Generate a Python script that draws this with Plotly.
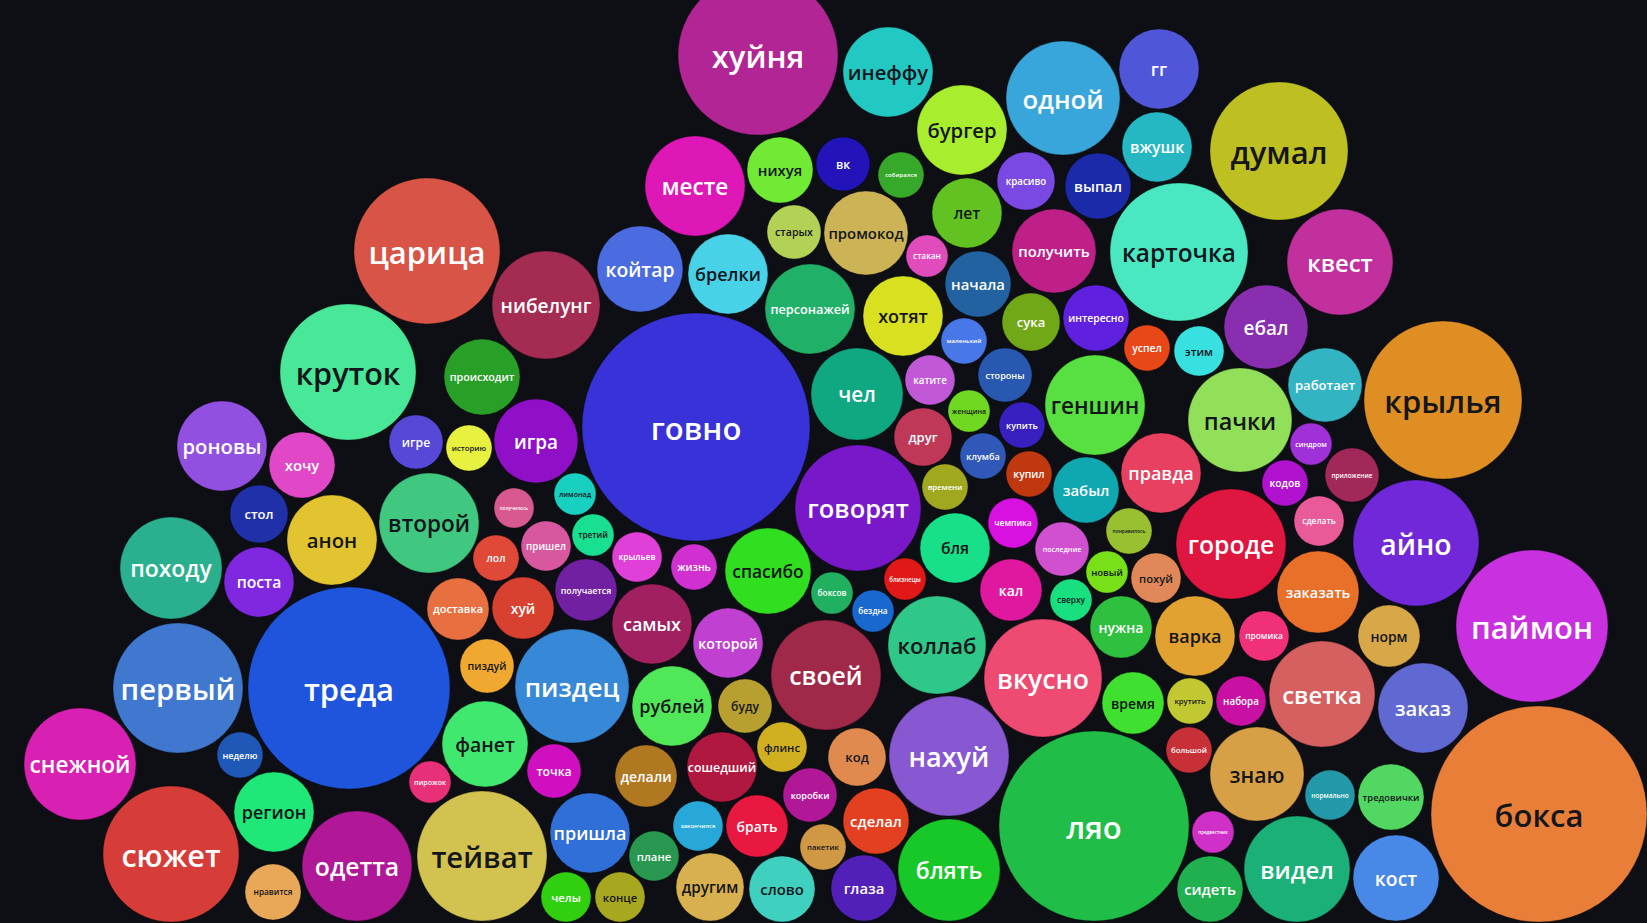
import plotly.graph_objects as go

# word, centre x, centre y, radius (px units of the 1647x923 canvas), colour
words = ["хуйня","месте","нихуя","старых","койтар","брелки","царица","нибелунг",
"инеффу","одной","гг","бургер","вк","собирался","красиво","выпал","вжушк","лет","промокод","стакан","получить","начала","карточка","думал","квест","ебал",
"работает","крылья","пачки","синдром","приложение","кодов","сделать","айно","городе","заказать","паймон",
"промика","норм","светка","набора","заказ","знаю","нормально","тредовички","бокса","видел","кост",
"коллаб","нужна","варка","вкусно","время","крутить","своей","код","нахуй","большой","ляо","сделал","пакетик","блять","глаза","предвестник","сидеть","коробки",
"самых","которой","пиздуй","пиздец","рублей","буду","фанет","флинс","точка","делали","сошедший","пирожок","тейват","пришла","закончился","брать","плане","другим","слово","челы","конце","доставка","хуй",
"первый","треда","снежной","неделю","регион","сюжет","одетта","нравится",
"круток","роновы","хочу","стол","анон","походу","поста","игре","второй",
"происходит","историю","игра","говно","лимонад","получилось","третий","лол","пришел","крыльев","жизнь","получается","спасибо","говорят","персонажей","чел","хотят",
"сука","интересно","маленький","успел","этим","катите","стороны","геншин","женщина","купить","друг","клумба","купил","правда","забыл","времени","чемпика","понравилось","бля","последние","близнецы","боксов","бездна","кал","новый","похуй","сверху"]

x = [758,695,780,794,640,728,427,546,
888,1063,1159,962,843,901,1026,1098,1157,967,866,927,1054,978,1179,1279,1340,1266,
1325,1443,1240,1311,1352,1285,1319,1416,1231,1318,1532,
1264,1389,1322,1241,1423,1257,1330,1391,1539,1297,1396,
937,1121,1195,1043,1133,1190,826,857,949,1189,1094,876,823,949,864,1213,1210,810,
652,728,487,572,672,745,485,782,554,646,722,430,482,590,698,757,654,710,782,566,620,458,523,
178,349,80,240,274,171,357,273,
348,222,302,259,332,171,259,416,429,
482,469,536,696,575,514,593,496,546,637,694,586,768,858,810,857,903,
1031,1096,964,1147,1199,930,1005,1095,969,1022,923,983,1029,1161,1086,945,1013,1129,955,1062,905,832,873,1011,1107,1156,1071]

y = [55,186,170,232,269,274,251,305,
72,98,69,130,164,175,181,186,147,213,233,256,251,284,252,151,262,327,
385,400,420,444,475,483,521,543,544,592,626,
636,636,694,701,708,774,795,797,814,869,878,
645,627,636,678,703,701,675,757,756,750,826,821,847,870,888,832,889,795,
624,643,666,686,706,706,744,747,771,776,767,782,856,833,826,826,856,887,889,897,897,609,608,
688,688,764,755,812,854,866,892,
372,446,465,514,540,568,582,442,523,
377,448,441,427,494,508,535,558,546,557,567,590,571,508,309,394,316,
322,318,341,348,351,380,375,405,411,425,437,456,474,473,490,487,523,531,548,549,579,593,611,590,572,578,600]

radius = [80,50,33,27,43,40,73,54,
45,57,40,45,27,23,29,33,35,35,42,21,42,33,69,69,53,42,
37,79,52,21,27,23,25,63,55,41,76,
25,31,53,25,45,47,25,33,108,53,43,
49,31,40,59,31,23,55,29,60,23,95,33,23,51,33,21,33,27,
40,35,27,57,40,27,43,25,27,31,35,21,65,40,25,31,25,34,33,25,25,31,31,
65,101,56,23,40,68,55,28,
68,45,33,29,45,51,35,27,50,
38,23,42,114,21,20,21,23,25,25,23,31,43,63,45,46,40,
29,33,23,23,25,25,27,50,21,23,29,23,23,40,33,23,25,23,35,27,21,21,21,31,21,25,21]

colors = ["#b12595","#de18b6","#70ea34","#b3d155","#4a6ce0","#48d2e8","#d85446","#a42c52",
"#22c8c2","#38a6da","#5056d8","#a8ee2e","#2214b8","#36a82a","#7a48e2","#1a2aa8","#26b8c2","#62c222","#ccb456","#e04cbc","#be2088","#2262a0","#4ae8c2","#bec022","#c2309e","#8a2eb0",
"#32b4c2","#de8e22","#92e05a","#a030d8","#a2285a","#b012d0","#e85a98","#7028d8","#de1640","#e87028","#c830e0",
"#f03078","#d8a848","#d66060","#c810a2","#6068d2","#d8a046","#2298a8","#52d862","#e87e38","#1ab078","#4888e6",
"#30c888","#30c040","#e2a232","#ee4a72","#40e030","#c2c832","#a02848","#e08a50","#8858d2","#c83038","#20be48","#e24020","#d09844","#18c828","#5220b8","#d030c8","#20b050","#b01898",
"#a02060","#c040d2","#f0a830","#3888d8","#50e858","#b8a030","#40e870","#d0b020","#d010c0","#b07820","#b01840","#e83078","#d2c250","#306ed8","#28a8d8","#e81840","#289850","#d8b050","#40d0c0","#30d010","#a8a820","#e87040","#d84030",
"#4078d0","#1e55dc","#d820b2","#2058b8","#20e878","#d63c38","#b01898","#e8a858",
"#48e898","#9250e0","#e048c8","#2030a8","#e2c430","#2ab08e","#8028e0","#5848d8","#40c880",
"#28a028","#e8f040","#9010c8","#3832d8","#18d0c0","#d85890","#18e090","#e04838","#d858a0","#e040d8","#d030d0","#7020a0","#30e020","#7818c8","#20b068","#10a880","#d8e020",
"#70a818","#6020e0","#4878e8","#e84818","#38e0e0","#c058d8","#2858b0","#58e040","#70d820","#3820c0","#c03858","#3058b8","#c03810","#e84060","#10a8b0","#a0a820","#d810e0","#98c030","#18e088","#d050d0","#e01818","#20b060","#1868d0","#e018a0","#78e018","#e08858","#18e080"]

# words whose label is drawn in dark ink (light bubbles)
dark_label_words = {"инеффу","бургер","промокод","старых","лет","нихуя","брелки","думал","карточка","хотят",
"круток","анон","второй","историю","лимонад","третий","спасибо","бля","геншин","пачки","этим","женщина",
"новый","понравилось","похуй","сверху","крылья","коллаб","время","крутить","варка","норм","знаю",
"тредовички","бокса","регион","нравится","пиздуй","фанет","рублей","буду","флинс","тейват","код",
"пакетик","конце","другим","слово"}

text_colors = ["#14161c" if w in dark_label_words else "#ffffff" for w in words]
font_sizes = [min(31, 0.45 * r, (1.5 if r > 30 else 1.25) * r / (0.53 * len(w)))
              for w, r in zip(words, radius)]
label_y = [yy + 0.16 * fs for yy, fs in zip(y, font_sizes)]

fig = go.Figure()
fig.add_trace(go.Scatter(
    x=x, y=y, mode="markers", text=words, hoverinfo="text",
    marker=dict(size=[2 * r for r in radius], sizemode="diameter", color=colors,
                opacity=1, line=dict(width=1, color="rgba(0,0,0,0.3)")),
))
fig.add_trace(go.Scatter(
    x=x, y=label_y, mode="text", text=words, hoverinfo="skip",
    textposition="middle center",
    textfont=dict(family="Open Sans, Noto Sans, sans-serif", size=font_sizes,
                  color=text_colors, weight=600),
))

fig.update_layout(
    width=1647, height=923,
    margin=dict(l=0, r=0, t=0, b=0),
    paper_bgcolor="#0e0f14", plot_bgcolor="#0e0f14",
    xaxis=dict(range=[0, 1647], visible=False, fixedrange=True),
    yaxis=dict(range=[923, 0], visible=False, fixedrange=True),
    showlegend=False,
)

fig.write_html(
    "out.html",
    config={"displayModeBar": False},
    post_script="document.body.style.margin='0';document.body.style.background='#0e0f14';"
                "document.body.style.overflow='hidden';",
)
